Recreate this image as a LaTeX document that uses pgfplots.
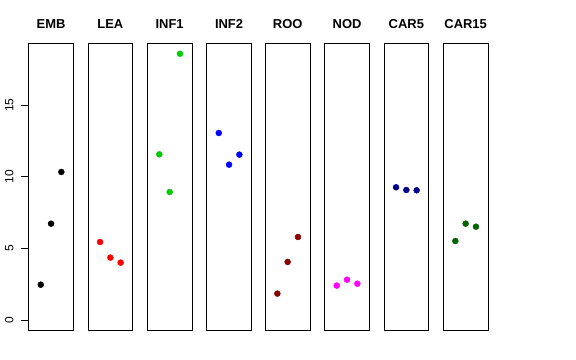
\documentclass[border=0pt]{standalone}
\usepackage{pgfplots}
\pgfplotsset{compat=1.18}
\usepackage{fontspec}
\setmainfont{Liberation Sans}
\definecolor{cEMB}{RGB}{0,0,0}
\definecolor{cLEA}{RGB}{255,0,0}
\definecolor{cINF1}{RGB}{0,205,0}
\definecolor{cINF2}{RGB}{0,0,255}
\definecolor{cROO}{RGB}{139,0,0}
\definecolor{cNOD}{RGB}{255,0,255}
\definecolor{cCAR5}{RGB}{0,0,139}
\definecolor{cCAR15}{RGB}{0,100,0}
\pgfplotsset{
  panel/.style={
    scale only axis, width=44.7bp, height=287.4bp,
    anchor=south west,
    xmin=-0.17, xmax=4.17, ymin=-0.75, ymax=19.31,
    xtick=\empty, ytick=\empty,
    axis line style={line width=0.8bp, black},
    title style={at={(0.5,1)}, anchor=base, yshift=9bp, font=\fontsize{13}{13}\selectfont\bfseries, inner sep=0pt},
    clip=false,
  },
  dots/.style={only marks, mark=*, mark size=3bp, mark options={draw=#1, fill=#1}},
}
\begin{document}
\begin{tikzpicture}
\path[use as bounding box] (0bp,0bp) rectangle (576bp,360bp);
\begin{axis}[panel, at={(28.7bp,29.3bp)}, title={EMB},
  ytick={0,5,10,15}, yticklabels={0,5,10,15}, ytick pos=left, tick align=outside,
  major tick length=8bp, tick style={line width=0.8bp, black},
  yticklabel style={xshift=-7bp, rotate=90, anchor=south, inner sep=0pt, font=\fontsize{12}{12}\selectfont}]
\addplot[dots=cEMB] coordinates {(1,2.46) (2,6.72) (3,10.33)};
\end{axis}
\begin{axis}[panel, at={(88bp,29.3bp)}, title={LEA}]
\addplot[dots=cLEA] coordinates {(1,5.44) (2,4.35) (3,4.00)};
\end{axis}
\begin{axis}[panel, at={(147.3bp,29.3bp)}, title={INF1}]
\addplot[dots=cINF1] coordinates {(1,11.56) (2,8.93) (3,18.58)};
\end{axis}
\begin{axis}[panel, at={(206.7bp,29.3bp)}, title={INF2}]
\addplot[dots=cINF2] coordinates {(1,13.05) (2,10.84) (3,11.54)};
\end{axis}
\begin{axis}[panel, at={(265.3bp,29.3bp)}, title={ROO}]
\addplot[dots=cROO] coordinates {(1,1.84) (2,4.05) (3,5.79)};
\end{axis}
\begin{axis}[panel, at={(324.7bp,29.3bp)}, title={NOD}]
\addplot[dots=cNOD] coordinates {(1,2.40) (2,2.81) (3,2.53)};
\end{axis}
\begin{axis}[panel, at={(384bp,29.3bp)}, title={CAR5}]
\addplot[dots=cCAR5] coordinates {(1,9.26) (2,9.07) (3,9.05)};
\end{axis}
\begin{axis}[panel, at={(443.3bp,29.3bp)}, title={CAR15}]
\addplot[dots=cCAR15] coordinates {(1,5.51) (2,6.72) (3,6.51)};
\end{axis}
\end{tikzpicture}
\end{document}
